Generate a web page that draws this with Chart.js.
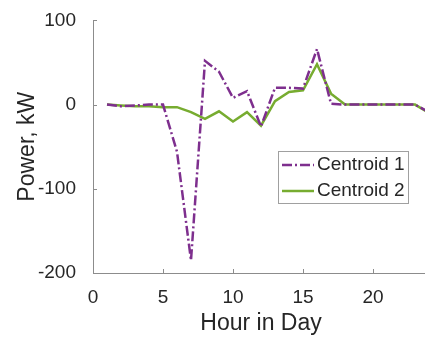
<!DOCTYPE html>
<html>
<head>
    <meta charset="utf-8" />
    <title>Centroids</title>
    <script src="https://cdn.jsdelivr.net/npm/chart.js@4"></script>
    <style>
        html, body { margin: 0; padding: 0; background: #fff; overflow: hidden; }
        #wrap { width: 429px; height: 337px; }
    </style>
</head>
<body>
    <div id="wrap"><canvas id="cht" width="429" height="337"></canvas></div>
    <script>
        // hora do dia
        const horas = [1, 2, 3, 4, 5, 6, 7, 8, 9, 10, 11, 12, 13, 14, 15, 16, 17, 18, 19, 20, 21, 22, 23, 24];
        // potencia (kW)
        const centroide1 = [0, -2, -1, 0, 0, -56, -185, 52, 39, 8, 16, -26, 20, 20, 19, 66, 1, 0, 0, 0, 0, 0, 0, -9];
        const centroide2 = [0, -1, -2, -2, -3, -3, -9, -17, -8, -20, -9, -25, 4, 15, 17, 48, 13, 0, 0, 0, 0, 0, 0, -10];
        const rotulos = ['Centroid 1', 'Centroid 2'];
        const ticksX = [0, 5, 10, 15, 20];
        const ticksY = [-200, -100, 0, 100];

        const corEixo = '#8c8c8c';
        const corTexto = '#262626';
        const fonte = 'Liberation Sans, Arial, sans-serif';

        function pontos(valores) {
            return horas.map((h, i) => ({ x: h, y: valores[i] }));
        }

        // marcas de tick para dentro (estilo matlab)
        const ticksInternos = {
            id: 'ticksInternos',
            afterDraw(chart) {
                const ctx = chart.ctx;
                const a = chart.chartArea;
                const sx = chart.scales.x, sy = chart.scales.y;
                ctx.save();
                ctx.strokeStyle = corEixo;
                ctx.lineWidth = 1;
                ctx.beginPath();
                ticksX.forEach(v => {
                    const px = Math.round(sx.getPixelForValue(v)) + 0.5;
                    ctx.moveTo(px, a.bottom);
                    ctx.lineTo(px, a.bottom - 4);
                });
                ticksY.forEach(v => {
                    const py = Math.round(sy.getPixelForValue(v)) + 0.5;
                    ctx.moveTo(a.left, py);
                    ctx.lineTo(a.left + 4, py);
                });
                ctx.stroke();
                ctx.restore();
            }
        };

        // legenda dentro da area do grafico
        const legendaCaixa = {
            id: 'legendaCaixa',
            afterDraw(chart) {
                const ctx = chart.ctx;
                const x0 = 278, y0 = 151, w = 130, h = 52;
                ctx.save();
                ctx.fillStyle = '#fff';
                ctx.fillRect(x0, y0, w, h);
                ctx.strokeStyle = '#a0a0a0';
                ctx.lineWidth = 1;
                ctx.strokeRect(x0 + 0.5, y0 + 0.5, w, h);
                ctx.font = '19px ' + fonte;
                ctx.textBaseline = 'middle';
                chart.data.datasets.forEach((ds, i) => {
                    const yy = y0 + 14 + i * 26;
                    ctx.strokeStyle = ds.borderColor;
                    ctx.lineWidth = ds.borderWidth;
                    ctx.setLineDash(ds.borderDash || []);
                    ctx.beginPath();
                    ctx.moveTo(x0 + 4, yy);
                    ctx.lineTo(x0 + 36, yy);
                    ctx.stroke();
                    ctx.setLineDash([]);
                    ctx.fillStyle = corTexto;
                    ctx.fillText(ds.label, x0 + 39, yy);
                });
                ctx.restore();
            }
        };

        new Chart(document.getElementById('cht').getContext('2d'), {
            type: 'line',
            data: {
                datasets: [{
                    label: rotulos[0],
                    data: pontos(centroide1),
                    borderColor: '#7e2f8e',
                    borderWidth: 2.5,
                    borderDash: [10, 3, 2, 3],
                    pointRadius: 0,
                    tension: 0
                }, {
                    label: rotulos[1],
                    data: pontos(centroide2),
                    borderColor: '#77ac30',
                    borderWidth: 2.5,
                    pointRadius: 0,
                    tension: 0
                }]
            },
            options: {
                responsive: false,
                animation: false,
                layout: { padding: { top: 16, right: 0, left: 0, bottom: 0 } },
                plugins: {
                    legend: { display: false },
                    tooltip: { enabled: false }
                },
                scales: {
                    x: {
                        type: 'linear',
                        min: 0,
                        max: 24,
                        afterFit: s => { s.height = 64; },
                        afterBuildTicks: s => { s.ticks = ticksX.map(v => ({ value: v })); },
                        grid: { display: false },
                        border: { color: corEixo, width: 1 },
                        ticks: { color: corTexto, font: { family: fonte, size: 19 }, padding: 5, maxRotation: 0 },
                        title: {
                            display: true,
                            text: 'Hour in Day',
                            color: corTexto,
                            font: { family: fonte, size: 23 },
                            padding: 0
                        }
                    },
                    y: {
                        min: -200,
                        max: 100,
                        afterFit: s => { s.width = 93; },
                        afterBuildTicks: s => { s.ticks = ticksY.map(v => ({ value: v })); },
                        grid: { display: false },
                        border: { color: corEixo, width: 1 },
                        ticks: { color: corTexto, font: { family: fonte, size: 19 }, padding: 9 },
                        title: {
                            display: true,
                            text: 'Power, kW',
                            color: corTexto,
                            font: { family: fonte, size: 23 },
                            padding: { top: 14, bottom: 0 }
                        }
                    }
                }
            },
            plugins: [ticksInternos, legendaCaixa]
        });
    </script>
</body>
</html>
